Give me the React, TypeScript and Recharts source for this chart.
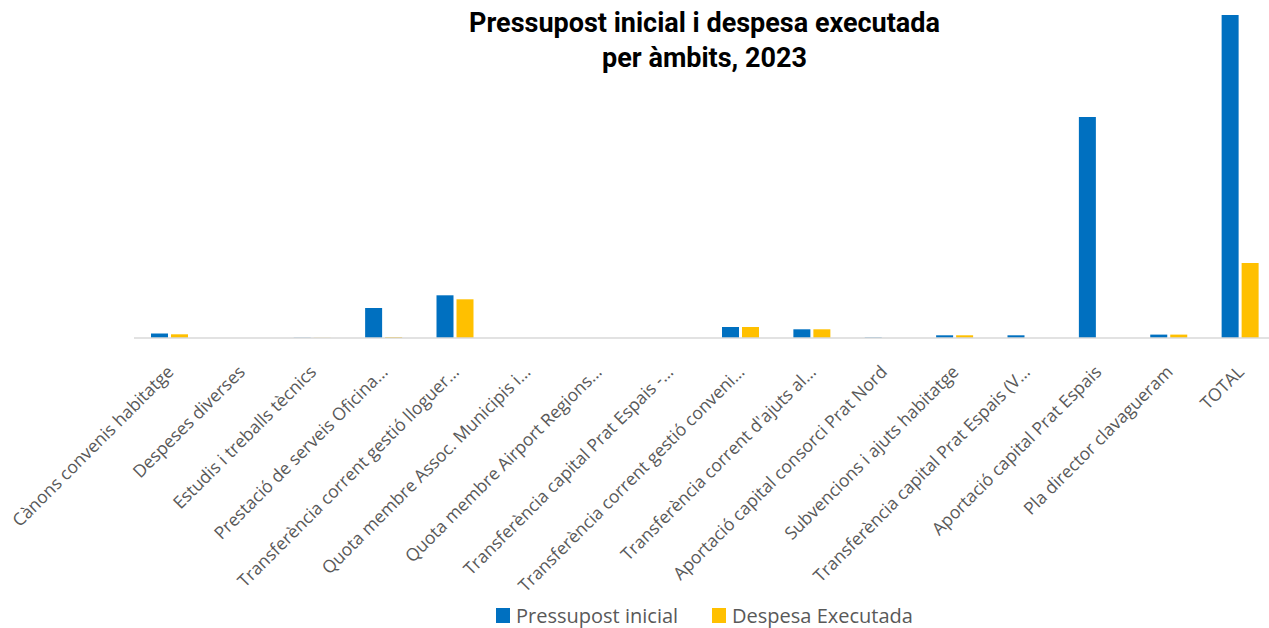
import React from 'react';
import { BarChart, Bar, XAxis, YAxis, Legend } from 'recharts';

// imports en milions d'euros (aprox., llegits del gràfic)
const ambits = [
  'Cànons convenis habitatge',
  'Despeses diverses',
  'Estudis i treballs tècnics',
  'Prestació de serveis Oficina…',
  'Transferència corrent gestió lloguer…',
  'Quota membre Assoc. Municipis i…',
  'Quota membre Airport Regions…',
  'Transferència capital Prat Espais -…',
  'Transferència corrent gestió conveni…',
  "Transferència corrent d'ajuts al…",
  'Aportació capital consorci Prat Nord',
  'Subvencions i ajuts habitatge',
  'Transferència capital Prat Espais (V…',
  'Aportació capital Prat Espais',
  'Pla director clavagueram',
  'TOTAL',
];
const pressupostInicial = [0.45, 0, 0.03, 3.0, 4.27, 0, 0, 0, 1.1, 0.87, 0.05, 0.27, 0.27, 22.1, 0.34, 32.3];
const despesaExecutada = [0.37, 0, 0.02, 0.1, 3.87, 0, 0, 0, 1.1, 0.87, 0, 0.27, 0, 0, 0.34, 7.5];

const data = ambits.map((nom, i) => ({
  nom,
  pressupost: pressupostInicial[i],
  despesa: despesaExecutada[i],
}));

const BLUE = '#0070C0';
const GOLD = '#FFC000';
const GREY = '#595959';

const RotatedTick = (props: any) => {
  const { x, y, payload } = props;
  return (
    <g transform={`translate(${x + 5},${y + 27})`}>
      <text
        x={0}
        y={0}
        textAnchor="end"
        transform="rotate(-45)"
        fill={GREY}
        fontSize={17.5}
        fontFamily="'Open Sans', sans-serif"
      >
        {payload.value}
      </text>
    </g>
  );
};

const LegendContent = () => (
  <div
    style={{
      display: 'flex',
      justifyContent: 'center',
      alignItems: 'center',
      height: 26,
      fontFamily: "'Open Sans', sans-serif",
      fontSize: 20,
      color: GREY,
    }}
  >
    <span style={{ width: 14, height: 15, background: BLUE, marginRight: 6 }} />
    <span style={{ marginRight: 34 }}>Pressupost inicial</span>
    <span style={{ width: 14, height: 15, background: GOLD, marginRight: 6 }} />
    <span>Despesa Executada</span>
  </div>
);

export default function App() {
  return (
    <div style={{ position: 'absolute', left: 0, top: 0, width: 1269, height: 628, overflow: 'hidden', background: '#fff' }}>
      <div
        style={{
          position: 'absolute',
          left: 134,
          width: 1141,
          top: 6,
          textAlign: 'center',
          fontFamily: 'Roboto, sans-serif',
          fontWeight: 700,
          fontSize: 27,
          lineHeight: '35px',
          color: '#000',
          zIndex: 1,
        }}
      >
        Pressupost inicial i despesa executada
        <br />
        per àmbits, 2023
      </div>
      <BarChart
        width={1276}
        height={628}
        data={data}
        margin={{ top: 15, right: 0, left: 134, bottom: 0 }}
        barSize={17}
        barGap={3}
      >
        <XAxis
          dataKey="nom"
          interval={0}
          tickLine={false}
          axisLine={{ stroke: '#D9D9D9', strokeWidth: 1.5 }}
          tick={<RotatedTick />}
          height={264}
        />
        <YAxis hide domain={[0, 'dataMax']} />
        <Legend
          verticalAlign="bottom"
          content={<LegendContent />}
          wrapperStyle={{ bottom: 0, left: 134, width: 1141 }}
        />
        <Bar dataKey="pressupost" name="Pressupost inicial" fill={BLUE} isAnimationActive={false} />
        <Bar dataKey="despesa" name="Despesa Executada" fill={GOLD} isAnimationActive={false} />
      </BarChart>
    </div>
  );
}
